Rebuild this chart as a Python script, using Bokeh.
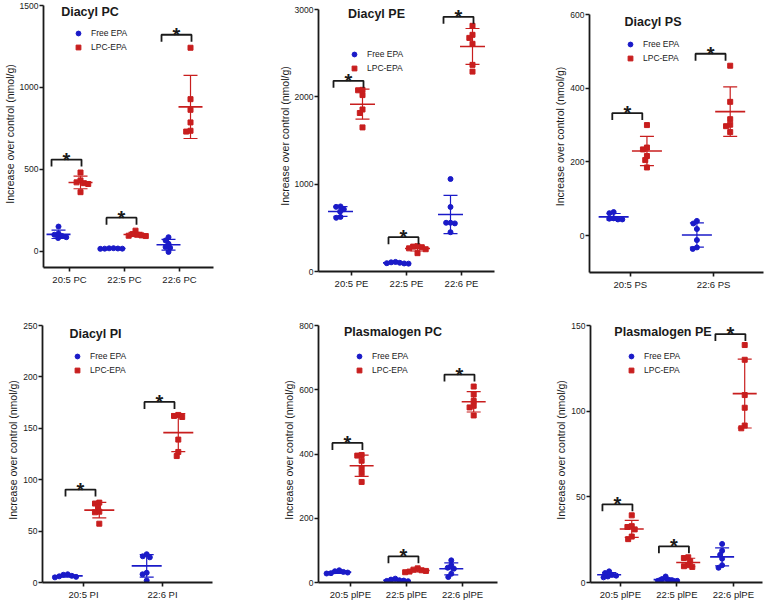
import math
import numpy as np
from bokeh.plotting import figure
from bokeh.models import FixedTicker, Label, Legend, LegendItem, Range1d
from bokeh.layouts import row, column
from bokeh.embed import file_html
from bokeh.resources import INLINE

# ---------------- data ----------------
pc_cats = ["20:5 PC", "22:5 PC", "22:6 PC"]
pc_free = [[150, 108, 100, 92, 85, 80], [18, 17, 16, 15, 15, 14], [85, 65, 45, 25, 20, -5]]
pc_lpc = [[480, 432, 420, 415, 410, 360], [125, 104, 100, 96, 94, 92], [1242, 928, 863, 786, 735, 730]]
pc_sig = [True, True, True]
pc_yticks = [0, 500, 1000, 1500]

pe_cats = ["20:5 PE", "22:5 PE", "22:6 PE"]
pe_free = [[745, 740, 712, 685, 625, 615], [110, 105, 100, 95, 92, 90], [1059, 739, 558, 558, 551, 450]]
pe_lpc = [[2080, 2075, 2020, 1855, 1815, 1650], [290, 285, 278, 265, 255, 210], [2813, 2710, 2675, 2607, 2366, 2289]]
pe_sig = [True, True, True]
pe_yticks = [0, 1000, 2000, 3000]

ps_cats = ["20:5 PS", "22:6 PS"]
ps_free = [[64, 61, 47, 46, 44, 44], [40, 33, 18, -12, -32, -36]]
ps_lpc = [[300, 239, 234, 216, 205, 185], [461, 363, 316, 301, 297, 281]]
ps_sig = [True, True]
ps_yticks = [0, 200, 400, 600]

pi_cats = ["20:5 PI", "22:6 PI"]
pi_free = [[8, 7.5, 6.5, 6, 5.5, 5], [27.5, 25.5, 24.5, 9.5, 8, 2]]
pi_lpc = [[77.7, 76.8, 73.6, 68.9, 68.3, 57.2], [163, 162, 161, 139, 127, 123]]
pi_sig = [True, True]
pi_yticks = [0, 50, 100, 150, 200, 250]

plpc_cats = ["20:5 plPE", "22:5 plPE", "22:6 plPE"]
plpc_free = [[38, 35, 33, 31, 29, 28], [12, 9, 7, 6, 5, 4], [69, 54, 46, 43, 27, 17]]
plpc_lpc = [[397, 395, 379, 356, 340, 313], [44, 40, 38, 36, 34, 32], [610, 585, 565, 550, 545, 520]]
plpc_sig = [True, True, True]
plpc_yticks = [0, 200, 400, 600, 800]

plpe_cats = ["20:5 plPE", "22:5 plPE", "22:6 plPE"]
plpe_free = [[6.5, 5.5, 4.5, 4, 3.5, 3], [3.5, 2, 1.5, 1.2, 1, 1], [22.5, 18.5, 16.2, 13.9, 10.1, 8.6]]
plpe_lpc = [[39.2, 32.9, 32.4, 31, 26.8, 25.3], [14.7, 14.3, 12.4, 10.1, 9.5, 9.1], [138.6, 130, 109.4, 102, 91.6, 90]]
plpe_sig = [True, True, True]
plpe_yticks = [0, 50, 100, 150]

series_names = ["Free EPA", "LPC-EPA"]
y_label = "Increase over control (nmol/g)"

# ---------------- style ----------------
FONT = "Liberation Sans"
BLUE = "#1a1ac8"
RED = "#c81e1e"
INK = "#1a1a1a"


def swarm_offsets(vals, ppy, diam):
    order = sorted(range(len(vals)), key=lambda i: -vals[i])
    placed = []
    out = [0.0] * len(vals)
    for i in order:
        y = vals[i] * ppy
        cands = [0.0]
        for (px, py) in placed:
            dy = y - py
            if abs(dy) < diam:
                dx = math.sqrt(diam ** 2 - dy ** 2)
                cands += [px - dx, px + dx]
        cands.sort(key=lambda c: (round(abs(c), 6), c))
        for c in cands:
            if all((c - px) ** 2 + (y - py) ** 2 >= diam ** 2 - 1e-6 for px, py in placed):
                out[i] = c
                placed.append((c, y))
                break
    return out


def panel(title, cats, free, lpc, sig, yr, yticks, fw, fh, L, R, T, B, head, xr,
          title_x, title_off, leg_x, leg_off, mean_len, gap):
    ppy = (fh - head) / (yr[1] - yr[0])
    y_end = yr[1] + head / ppy
    ppx = fw / (xr[1] - xr[0])
    p = figure(frame_width=fw, frame_height=fh, min_border_left=L, min_border_right=R,
               min_border_top=T, min_border_bottom=B,
               x_range=Range1d(*xr), y_range=Range1d(yr[0], y_end),
               output_backend="svg", toolbar_location=None)

    p.xgrid.visible = False
    p.ygrid.visible = False
    p.outline_line_color = None

    for ax in (p.xaxis, p.yaxis):
        ax.axis_line_width = 1.8
        ax.axis_line_color = INK
        ax.major_tick_line_width = 1.6
        ax.major_tick_line_color = INK
        ax.major_tick_out = 4
        ax.major_tick_in = 0
        ax.minor_tick_line_color = None
        ax.major_label_text_font = FONT
        ax.major_label_text_color = INK

    p.xaxis.axis_label = None
    p.xaxis.axis_label_standoff = 0
    p.xaxis.major_label_standoff = 2
    p.xaxis.ticker = FixedTicker(ticks=list(range(1, len(cats) + 1)))
    p.xaxis.major_label_overrides = {i + 1: c for i, c in enumerate(cats)}
    p.xaxis.major_label_text_font_size = "9.5px"

    p.yaxis.bounds = (yr[0], yr[1])
    p.yaxis.ticker = FixedTicker(ticks=yticks)
    p.yaxis.major_label_standoff = 1
    p.yaxis.major_label_text_font_size = "8.5px"
    p.yaxis.axis_label = y_label
    p.yaxis.axis_label_text_font = FONT
    p.yaxis.axis_label_text_font_size = "10.5px"
    p.yaxis.axis_label_text_font_style = "normal"
    p.yaxis.axis_label_text_color = INK
    p.yaxis.axis_label_standoff = 1

    renderers = []
    for s_idx, (groups, color, marker) in enumerate(((free, BLUE, "circle"), (lpc, RED, "square"))):
        off = -0.2 if s_idx == 0 else 0.2
        xs, ys = [], []
        mx, mm, lo, hi = [], [], [], []
        for gi, vals in enumerate(groups):
            cx = gi + 1 + off
            offs = swarm_offsets(vals, ppy, 4.4)
            xs += [cx + o / ppx for o in offs]
            ys += list(vals)
            m = float(np.mean(vals))
            sd = float(np.std(vals, ddof=1))
            mx.append(cx)
            mm.append(m)
            lo.append(m - sd)
            hi.append(m + sd)
        p.segment(x0=mx, y0=lo, x1=mx, y1=hi, line_color=color, line_width=1.2)
        p.scatter(x=mx + mx, y=lo + hi, marker="dash", size=14, line_color=color, line_width=1.2)
        p.scatter(x=mx, y=mm, marker="dash", size=mean_len, line_color=color, line_width=1.6)
        r = p.scatter(x=xs, y=ys, marker=marker, size=5, fill_color=color, line_color=color)
        renderers.append(r)

    # significance brackets
    for gi, is_sig in enumerate(sig):
        if not is_sig:
            continue
        c = gi + 1
        top = max(max(free[gi]), max(lpc[gi])) + gap / ppy
        leg = 7 / ppy
        x0 = c - 18 / ppx
        x1 = c + 12 / ppx
        p.multi_line(xs=[[x0, x0, x1, x1]], ys=[[top - leg, top, top, top - leg]],
                     line_color=INK, line_width=1.8)
        p.add_layout(Label(x=(x0 + x1) / 2, y=top, text="*", text_font=FONT,
                           text_font_size="20px", text_font_style="bold",
                           text_align="center", text_baseline="alphabetic",
                           text_color=INK))

    # title inside plot (offsets measured from the top tick)
    p.add_layout(Label(x=title_x, y=fh - head - title_off, x_units="screen", y_units="screen",
                       text=title, text_font=FONT, text_font_size="12.5px",
                       text_font_style="bold", text_align="center", text_baseline="middle",
                       text_color=INK))

    legend = Legend(items=[LegendItem(label=series_names[0], renderers=[renderers[0]]),
                           LegendItem(label=series_names[1], renderers=[renderers[1]])],
                    location=(leg_x, fh - head - (leg_off - 7) - 28),
                    padding=0, margin=0, spacing=0,
                    glyph_width=12, glyph_height=14, label_height=14,
                    label_standoff=7, label_text_font=FONT, label_text_font_size="8.5px",
                    label_text_color=INK, label_text_baseline="middle",
                    border_line_alpha=0, background_fill_alpha=0)
    p.add_layout(legend)
    return p


# row 1 (figure tops at y=0)
p1 = panel("Diacyl PC", pc_cats, pc_free, pc_lpc, pc_sig, (-100, 1500), pc_yticks,
           170, 267, 42, 44, 0, 20, 5, (0.527, 3.618), 46.5, 6, 29, 28, 24, 13)
p2 = panel("Diacyl PE", pe_cats, pe_free, pe_lpc, pe_sig, (0, 3000), pe_yticks,
           176, 271, 61, 17, 0, 20, 9, (0.4, 3.6), 58, 4, 30, 45, 25, 9)
p3 = panel("Diacyl PS", ps_cats, ps_free, ps_lpc, ps_sig, (-100, 600), ps_yticks,
           174, 272, 78, 2, 0, 20, 14, (0.51, 2.6), 63.5, 7, 35, 30, 30, 12)
# row 2 (starts at y=292)
p4 = panel("Diacyl PI", pi_cats, pi_free, pi_lpc, pi_sig, (0, 250), pi_yticks,
           170, 265, 42, 44, 25, 19, 8, (0.481, 2.633), 53, 8, 29, 31, 30, 13)
p5 = panel("Plasmalogen PC", plpc_cats, plpc_free, plpc_lpc, plpc_sig, (0, 800), plpc_yticks,
           179, 265, 62, 13, 25, 19, 8, (0.43, 3.625), 74.5, 6, 35, 31, 24, 12)
p6 = panel("Plasmalogen PE", plpe_cats, plpe_free, plpe_lpc, plpe_sig, (0, 150), plpe_yticks,
           172, 265, 80, 2, 25, 19, 8, (0.47, 3.515), 72.5, 6, 35, 31, 24, 11)

layout = column(row(p1, p2, p3), row(p4, p5, p6))
open("out.html", "w").write(file_html(layout, INLINE))
